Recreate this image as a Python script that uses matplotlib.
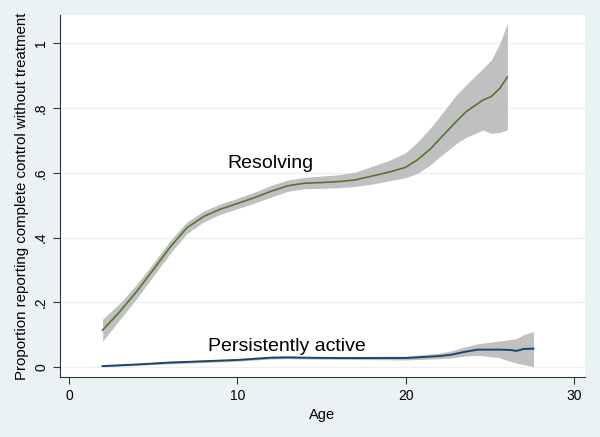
import matplotlib.pyplot as plt
import numpy as np

# Resolving group
age_res = [2, 3, 4, 5, 6, 7, 8, 9, 10, 11, 12, 13, 14, 15, 16, 17, 18, 19, 20,
           20.7, 21.5, 22, 23, 23.6, 24.6, 25.1, 25.6, 26.05]
res = [0.114, 0.170, 0.232, 0.300, 0.370, 0.430, 0.465, 0.488, 0.505, 0.523,
       0.543, 0.560, 0.568, 0.570, 0.573, 0.578, 0.590, 0.602, 0.617,
       0.640, 0.675, 0.703, 0.758, 0.789, 0.825, 0.836, 0.861, 0.896]
res_lo = [0.080, 0.145, 0.210, 0.280, 0.350, 0.412, 0.448, 0.472, 0.489, 0.506,
          0.525, 0.543, 0.551, 0.552, 0.554, 0.558, 0.565, 0.575, 0.585,
          0.598, 0.626, 0.648, 0.690, 0.710, 0.732, 0.722, 0.725, 0.733]
res_hi = [0.148, 0.196, 0.254, 0.320, 0.390, 0.448, 0.482, 0.504, 0.521, 0.540,
          0.561, 0.578, 0.586, 0.590, 0.594, 0.602, 0.620, 0.638, 0.662,
          0.695, 0.740, 0.772, 0.840, 0.872, 0.923, 0.949, 1.000, 1.063]

# Persistently active group
age_per = [2, 4, 6, 8, 10, 12, 13, 14, 16, 18, 20, 21, 22, 22.7, 23.5, 24.3,
           25.5, 26.2, 26.6, 27, 27.6]
per = [0.003, 0.008, 0.014, 0.018, 0.022, 0.029, 0.030, 0.029, 0.028, 0.028,
       0.028, 0.031, 0.034, 0.038, 0.047, 0.054, 0.054, 0.053, 0.050, 0.056, 0.057]
per_lo = [0.001, 0.005, 0.010, 0.014, 0.018, 0.025, 0.026, 0.025, 0.024, 0.023,
          0.022, 0.024, 0.026, 0.028, 0.034, 0.036, 0.030, 0.018, 0.012, 0.008, 0.001]
per_hi = [0.005, 0.011, 0.018, 0.022, 0.026, 0.033, 0.034, 0.033, 0.032, 0.033,
          0.034, 0.038, 0.043, 0.050, 0.062, 0.072, 0.080, 0.085, 0.088, 0.100, 0.110]

bg = "#eaf2f3"
fig = plt.figure(figsize=(6, 4.37), dpi=100, facecolor=bg)
ax = fig.add_axes([0.1, 0.137, 0.875, 0.829])
ax.set_facecolor("white")

ax.fill_between(age_res, res_lo, res_hi, color="#c0c0c0", lw=0)
ax.fill_between(age_per, per_lo, per_hi, color="#c0c0c0", lw=0)
ax.plot(age_res, res, color="#55752f", lw=1.2)
ax.plot(age_per, per, color="#1a476f", lw=1.4)

ax.text(12.0, 0.63, "Resolving", fontsize=14, family="Liberation Sans",
        ha="center", va="center")
ax.text(12.95, 0.063, "Persistently active", fontsize=14,
        family="Liberation Sans", ha="center", va="center")

ax.set_xlim(-0.53, 30.66)
ax.set_ylim(-0.031, 1.088)
ax.set_xticks([0, 10, 20, 30])
ax.set_yticks([0, 0.2, 0.4, 0.6, 0.8, 1.0])
ax.set_yticklabels(["0", ".2", ".4", ".6", ".8", "1"], rotation=90, va="center")
ax.grid(axis="y", color=bg, lw=1)
ax.set_axisbelow(True)
for s in ["top", "right"]:
    ax.spines[s].set_visible(False)
for s in ["left", "bottom"]:
    ax.spines[s].set_color("#333333")
ax.tick_params(labelsize=10, colors="#333333", labelcolor="black", length=5)
for lab in ax.get_xticklabels() + ax.get_yticklabels():
    lab.set_family("Liberation Sans")
ax.set_xlabel("Age", fontsize=10.5, family="Liberation Sans")
ax.set_ylabel("Proportion reporting complete control without treatment",
              fontsize=10.8, family="Liberation Sans")

fig.savefig("out.png", dpi=100, facecolor=bg)
